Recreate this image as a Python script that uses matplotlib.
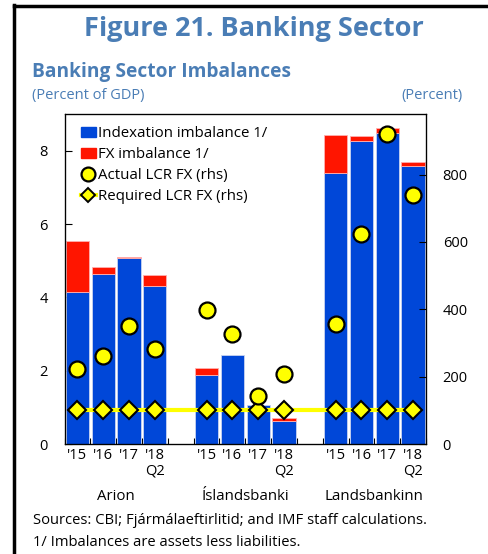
import matplotlib
matplotlib.use("Agg")
import matplotlib.pyplot as plt
from matplotlib.lines import Line2D
from matplotlib.patches import Patch
import numpy as np

plt.rcParams['font.family'] = ['Open Sans', 'DejaVu Sans']

banks = ["Arion", "Íslandsbanki", "Landsbankinn"]
years = ["'15", "'16", "'17", "'18\nQ2"]
indexation = [4.15, 4.63, 5.08, 4.32, 1.87, 2.43, 1.06, 0.62, 7.39, 8.26, 8.48, 7.57]
fx = [1.40, 0.20, 0.02, 0.28, 0.19, -0.03, -0.03, 0.08, 1.03, 0.14, 0.15, 0.11]
actual_lcr = [222, 260, 351, 281, 397, 328, 144, 209, 355, 624, 922, 738]
required_lcr = [100] * 12

W, H = 488, 554
fig = plt.figure(figsize=(W / 100, H / 100), dpi=100)

# positions: 4 bars per bank with a gap slot between banks
pos = []
for b in range(len(banks)):
    for y in range(len(years)):
        pos.append(b * (len(years) + 1) + y)
pos = np.array(pos)

ax = fig.add_axes([64.5 / W, (H - 444) / H, (426 - 64.5) / W, (444 - 114) / H])
blue = '#0047d8'
red = '#ff1500'
idx = np.array(indexation)
fxa = np.array(fx)
ax.bar(pos, idx, width=0.9, color=blue, edgecolor='#c8d4f0', linewidth=0.6, zorder=2)
ax.bar(pos, fxa, width=0.9, bottom=np.where(fxa >= 0, idx, 0), color=red,
       edgecolor='#ffb0b0', linewidth=0.6, zorder=2)
ax.set_xlim(-0.5, pos[-1] + 0.5)
ax.set_ylim(0, 9)
ax.set_yticks([0, 2, 4, 6, 8])
ax.set_xticks(pos)
ax.set_xticklabels(years * len(banks), fontsize=10.5, linespacing=1.0)
ax.set_xticks(np.arange(-0.5, pos[-1] + 1, 1), minor=True)
ax.tick_params(axis='x', which='major', length=0, pad=3)
ax.tick_params(axis='x', which='minor', direction='in', length=4, width=0.8)
ax.tick_params(axis='y', direction='in', length=5, width=0.8, labelsize=10.5, pad=12)
for s in ax.spines.values():
    s.set_linewidth(0.9)

ax2 = ax.twinx()
ax2.set_ylim(0, 980)
ax2.set_yticks([0, 200, 400, 600, 800])
ax2.tick_params(axis='y', direction='in', length=5, width=0.8, labelsize=10.5, pad=12)
ax2.plot(pos, required_lcr, color='#ffff00', lw=3, marker='D', ms=9,
         mfc='#ffff00', mec='black', mew=1.5, zorder=3)
ax2.plot(pos, actual_lcr, ls='none', marker='o', ms=11.5,
         mfc='#ffff00', mec='black', mew=1.6, zorder=4)

# group labels
for b, name in enumerate(banks):
    cx = b * (len(years) + 1) + 1.5
    ax.text(cx, -(496 - 444) / 330, name, transform=ax.get_xaxis_transform(),
            ha='center', va='center', fontsize=10.8)

handles = [Patch(color=blue), Patch(color=red),
           Line2D([], [], ls='none', marker='o', ms=10, mfc='#ffff00', mec='black', mew=1.6),
           Line2D([], [], color='#ffff00', lw=3, marker='D', ms=7, mfc='#ffff00', mec='black', mew=1.4)]
labels = ["Indexation imbalance 1/", "FX imbalance 1/", "Actual LCR FX (rhs)", "Required LCR FX (rhs)"]
leg = ax2.legend(handles, labels, loc='upper left', bbox_to_anchor=(0.02, 0.99), frameon=False,
                 fontsize=10.8, handlelength=1.0, handletextpad=0.15, labelspacing=0.4,
                 borderaxespad=0.2)

title_col = '#4a7db5'
fig.text(254 / W, 1 - 29 / H, "Figure 21. Banking Sector", ha='center', va='center',
         fontsize=19.5, fontweight='bold', color=title_col)
fig.text(32 / W, 1 - 72 / H, "Banking Sector Imbalances", ha='left', va='center',
         fontsize=13.8, fontweight='bold', color=title_col)
fig.text(32 / W, 1 - 95 / H, "(Percent of GDP)", ha='left', va='center',
         fontsize=10.5, color=title_col)
fig.text(463 / W, 1 - 95 / H, "(Percent)", ha='right', va='center',
         fontsize=10.5, color=title_col)
fig.text(33 / W, 1 - 520 / H, "Sources: CBI; Fjármálaeftirlitid; and IMF staff calculations.",
         ha='left', va='center', fontsize=10.6)
fig.text(33 / W, 1 - 543 / H, "1/ Imbalances are assets less liabilities.",
         ha='left', va='center', fontsize=10.6)

# outer frame lines
fig.add_artist(Line2D([14 / W, 14 / W], [0, 1 - 5 / H], color='black', lw=2.5,
                      transform=fig.transFigure))
fig.add_artist(Line2D([14 / W, 1], [1 - 5.5 / H, 1 - 5.5 / H], color='black', lw=2.5,
                      transform=fig.transFigure))

fig.savefig("out.png", dpi=100)
